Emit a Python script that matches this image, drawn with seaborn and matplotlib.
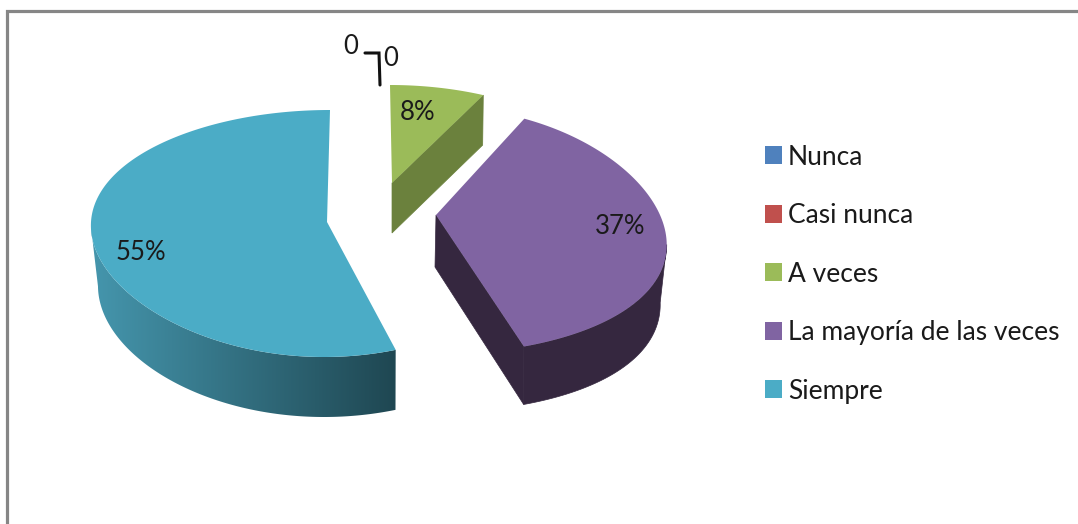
import numpy as np
import pandas as pd
import seaborn as sns
import matplotlib
matplotlib.use("Agg")
import matplotlib.pyplot as plt
from matplotlib.colors import LinearSegmentedColormap
from matplotlib.patches import Patch, Polygon

categories = ["Nunca", "Casi nunca", "A veces", "La mayoría de las veces", "Siempre"]
values = [0, 0, 8, 37, 55]
top_colors = ["#4F81BD", "#C0504D", "#9BBB59", "#8064A2", "#4BACC6"]
side_colors = ["#3A5F8C", "#8E3B39", "#6B813D", "#35273F", "#4596AD"]
side_dark = {"Siempre": "#1F4752"}

# slice geometry in picture pixels: apex, radii, depth, perspective
geometry = {
    "A veces": dict(cx=392, cy=183, rx=236, back=98, front=135, a=0.244, q=-0.042, skew=-2, depth=50),
    "La mayoría de las veces": dict(cx=436, cy=215, rx=224, back=108, front=139, a=0.244, q=-0.042, skew=0, depth=58),
    "Siempre": dict(cx=327, cy=222, rx=236, back=112, front=135, a=0.018, q=0.04, skew=3, depth=60),
}
pct_pos = {"A veces": (418, 113), "La mayoría de las veces": (620, 227), "Siempre": (141, 252)}

df = pd.DataFrame({"cat": categories, "val": values, "top": top_colors, "side": side_colors})

sns.set_theme(style="white")
plt.rcParams["font.family"] = ["Lato", "DejaVu Sans"]
fig, ax = plt.subplots(figsize=(10.78, 5.24), dpi=100)
fig.subplots_adjust(0, 0, 1, 1)
ax.axis("off")


def rim(g, th, bottom=False):
    s, c = np.sin(th), np.cos(th)
    f = 1 - g["a"] * c - g["q"] * c ** 2
    r = 0.5 * (g["back"] + g["front"]) - 0.5 * (g["front"] - g["back"]) * c
    x = g["rx"] * s * f + g["skew"] * c
    y = -r * c
    if bottom:
        x = x * (1 - 0.03 * s ** 2)
        y = y + g["depth"]
    return g["cx"] + x, g["cy"] + y


total = df["val"].sum()
start = 0.0
for row in df.itertuples():
    sweep = 2 * np.pi * row.val / total
    if row.val == 0:
        continue
    g = geometry[row.cat]
    th = np.linspace(start, start + sweep, 240)
    tx, ty = rim(g, th)
    bx, by = rim(g, th, True)
    ax_, ay_ = g["cx"], g["cy"]

    # cut faces that look towards the viewer
    if row.cat == "A veces":
        ax.fill([ax_, tx[-1], bx[-1], ax_], [ay_, ty[-1], by[-1], ay_ + g["depth"]],
                color=row.side, lw=0.5, zorder=2)
    if row.cat == "La mayoría de las veces":
        ax.fill([ax_, tx[-1], bx[-1], ax_ - 1], [ay_, ty[-1], by[-1], ay_ + g["depth"] - 6],
                color=row.side, lw=0.5, zorder=2)

    # curved outer wall: front part, from the silhouette point of the rim onwards
    if row.cat != "A veces":
        ext = th[np.argmax(np.abs(tx - ax_))]
        vis = th >= ext if ext < np.pi else th <= ext
        wx = np.r_[tx[vis], bx[vis][::-1]]
        wy = np.r_[ty[vis], by[vis][::-1]]
        if row.cat in side_dark:
            cmap = LinearSegmentedColormap.from_list("wall", [row.side, side_dark[row.cat]])
            im = ax.imshow(np.linspace(0, 1, 256)[None, :], cmap=cmap, aspect="auto",
                           extent=(wx.min(), wx.max(), wy.max(), wy.min()), zorder=2)
            clip = Polygon(np.c_[wx, wy], closed=True, transform=ax.transData)
            im.set_clip_path(clip)
        else:
            ax.fill(wx, wy, color=row.side, lw=0.5, zorder=2)

    # top surface
    ax.fill(np.r_[ax_, tx], np.r_[ay_, ty], color=row.top, lw=0, zorder=3)
    px, py = pct_pos[row.cat]
    ax.text(px, py, f"{row.val}%", ha="center", va="center", fontsize=18.5,
            color="#1a1a1a", zorder=4)
    start += sweep

# zero labels with leader line
ax.text(351, 46, str(values[0]), ha="center", va="center", fontsize=18.5, color="#1a1a1a")
ax.text(391, 59, str(values[1]), ha="center", va="center", fontsize=18.5, color="#1a1a1a")
ax.plot([365, 379, 380], [53, 53, 85], color="#111111", lw=2.2, solid_joinstyle="miter")

# chart frame
ax.plot([6.5, 6.5, 1078], [524, 10.5, 10.5], color="#868686", lw=2.3, solid_joinstyle="miter")

ax.set_xlim(0, 1078)
ax.set_ylim(524, 0)
ax.set_aspect("auto")

handles = [Patch(facecolor=c, edgecolor="none") for c in top_colors]
ax.legend(handles, categories, loc="upper left", bbox_to_anchor=(754, 134),
          bbox_transform=ax.transData, frameon=False, fontsize=19,
          handlelength=0.66, handleheight=0.66, handletextpad=0.22,
          labelspacing=1.27, labelcolor="#1a1a1a", borderpad=0.4, borderaxespad=0)

fig.savefig("out.png", dpi=100)
